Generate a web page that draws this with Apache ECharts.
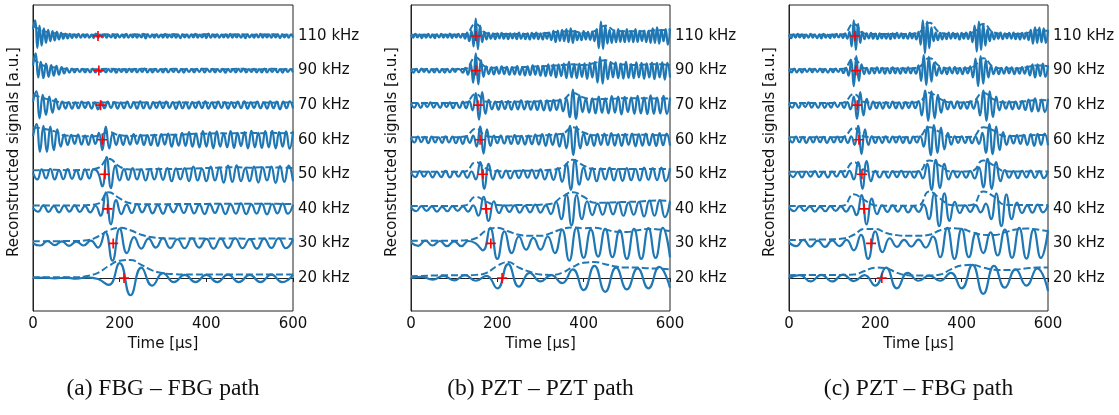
<!DOCTYPE html>
<html><head><meta charset="utf-8">
<script src="https://cdn.jsdelivr.net/npm/echarts@6/dist/echarts.min.js"></script>
<style>html,body{margin:0;padding:0;background:#fff}#c{width:1119px;height:415px}</style>
</head><body><div id="c"></div>
<script>
// ---- labels / ticks ----
const freqLabels = ['110 kHz','90 kHz','70 kHz','60 kHz','50 kHz','40 kHz','30 kHz','20 kHz'];
const traceOffsets = [7,6,5,4,3,2,1,0];
const sampleStep = [5, 6, 7.5, 8, 10, 12, 50/3, 25]; // µs between stored samples, 110 -> 20 kHz
const envStep = 25;
const timeTicks = [0, 200, 400, 600];
const captions = ['(a) FBG \u2013 FBG path', '(b) PZT \u2013 PZT path', '(c) PZT \u2013 FBG path'];
// values in 1/100 a.u. (trace spacing = 1 a.u.)

// ---- (a) FBG-FBG ----
const fbg110 = [20,45,-35,30,-28,22,-20,18,-15,14,-13,12,-10,9,-8,7,-7,6,-6,5,-5,6,-5,5,-4,5,-5,4,-6,7,-5,4,-4,5,-5,4,-4,5,-6,5,-4,4,-5,6,-5,4,-4,5,-5,4,-4,6,-7,5,-4,4,-5,5,-4,4,-5,6,-5,4,-4,5,-5,4,-6,5,-4,4,-5,5,-4,6,-5,4,-4,5,-6,7,-5,4,-4,5,-5,4,-4,5,-5,6,-5,4,-4,5,-5,4,-6,5,-4,4,-5,5,-4,6,-5,4,-4,5,-5,4,-4,5,-6,5,-4,4,-5,5,-4];
const fbg90 = [15,50,-20,25,-22,20,-18,16,-15,14,-12,10,-8,7,-6,6,-5,5,-4,5,-5,4,-5,6,-5,4,-4,5,-5,4,-4,5,-6,5,-4,4,-5,5,-4,5,-5,4,-4,6,-5,4,-5,5,-4,4,-5,6,-5,4,-4,5,-5,4,-6,5,-4,4,-5,5,-4,6,-5,4,-4,5,-5,4,-4,5,-6,5,-4,4,-5,5,-4,6,-5,4,-4,5,-5,4,-5,6,-5,4,-4,5,-5,4,-6,5,-4,4,-5];
const fbg70 = [10,40,-38,30,-28,25,-22,18,-12,10,-10,9,-10,8,-9,10,-8,9,-10,8,-12,10,-9,10,-8,9,-10,8,-9,10,-8,9,-10,11,-9,8,-10,9,-8,10,-9,10,-8,9,-11,10,-9,8,-10,9,-8,10,-9,11,-10,8,-9,10,-8,9,-10,9,-8,10,-9,11,-10,9,-8,10,-9,8,-10,11,-9,10,-12,10,-9,11,-10];
const fbg60 = [10,45,-35,40,-35,38,-30,30,-20,15,-15,14,-12,15,-14,12,-15,14,-12,20,-30,38,-25,18,-15,14,-15,12,-14,16,-12,14,-15,13,-16,15,-18,16,-14,18,-20,15,-17,20,-18,22,-20,18,-22,25,-20,22,-25,24,-20,18,-22,25,-24,20,-18,22,-25,26,-22,20,-24,25,-22,26,-25,22,-20,24,-26,25];
const fbg50 = [5,-15,14,-12,16,-15,12,-14,15,-13,12,-15,14,-12,15,5,-35,50,-40,25,-18,15,-16,18,-15,14,-18,16,-15,17,-16,18,-20,17,-15,18,-20,22,-18,16,-20,22,-18,20,-24,25,-22,26,-20,18,-20,22,-24,20,-18,22,-25,24,-22,25,-20];
const fbg40 = [3,-8,10,-9,8,-10,9,-8,10,-9,8,-10,9,-20,48,-45,25,-15,12,-12,14,-10,12,-13,11,-14,12,-10,13,-12,14,-13,12,-15,13,-12,14,-15,13,-14,16,-15,13,-14,15,-16,14,-13,15,-14,12];
const fbg30 = [0,-6,7,-5,6,-7,5,-6,8,-12,33,-50,43,-28,18,-15,14,-12,15,-13,12,-14,15,-12,13,-15,14,-13,15,-14,12,-15,14,-13,15,-14,12];
const fbg20 = [0,1,-1,1,-2,2,-3,-20,43,-50,30,-22,14,-12,9,-12,9,-12,10,-12,9,-12,10,-12,9];
const envFbg110 = [30,14,8,5,4,4,4,5,4,4,5,4,4,5,4,4,5,4,4,5,4,4,5,4,4];
const envFbg90 = [35,14,9,5,4,4,4,5,4,4,5,4,4,5,4,4,5,4,4,5,4,4,5,4,4];
const envFbg70 = [30,20,12,7,7,7,7,8,7,7,8,7,7,7,8,7,7,8,7,7,7,8,7,8,7];
const envFbg60 = [35,32,24,12,11,10,11,22,13,11,12,13,14,14,15,17,17,19,18,19,20,19,20,19,20];
const envFbg50 = [12,12,13,12,12,13,18,45,22,14,14,15,15,15,16,17,18,19,20,20,19,20,20,19,18];
const envFbg40 = [10,10,10,10,10,11,15,48,30,16,13,13,13,14,14,14,14,15,15,15,15,15,15,14,14];
const envFbg30 = [6,6,6,7,7,9,20,38,45,38,25,18,15,14,14,14,14,14,14,14,13,14,14,14,13];
const envFbg20 = [2,2,2,2,2,6,15,35,50,52,38,22,14,11,10,10,10,10,10,10,10,10,10,10,10];
const arrivalFbg = [150,152,156,160,166,172,185,210];

// ---- (b) PZT-PZT ----
const pzt110 = [3,-5,6,-4,5,-6,4,-5,6,-5,4,-6,5,-4,6,-5,4,-5,7,-6,5,-4,6,-5,6,-8,10,-15,15,-30,50,-38,30,-18,12,-10,9,-8,7,-9,8,-7,9,-8,7,-9,8,-7,8,-9,10,-8,7,-9,8,-10,9,-8,10,-9,8,-10,9,-8,10,-12,15,-18,16,-14,18,-15,20,-18,22,-20,15,-12,10,-12,14,-10,12,-11,13,-15,20,-35,42,-38,30,-22,18,-20,16,-18,20,-17,15,-18,20,-16,14,-18,20,-17,15,-14,16,-18,15,-20,22,-20,25,-22,18,-15,20,-25,22];
const pzt90 = [4,-6,5,-5,6,-4,5,-6,4,-5,6,-5,4,-6,5,-5,6,-4,5,3,-6,8,-12,20,-35,50,-40,30,-18,12,-10,9,-11,10,-9,12,-10,11,-12,10,-11,13,-12,10,-14,12,-13,15,-12,14,-15,14,-16,18,-15,17,-20,18,-16,20,-22,25,-20,18,-22,20,-18,21,-24,22,-20,25,-35,40,-38,30,-25,22,-20,24,-22,20,-23,25,-21,19,-22,24,-20,22,-24,21,-20,23,-25,22,-20,24,-26,22,-20];
const pzt70 = [5,-7,6,-8,7,-6,8,-7,6,-8,7,-6,8,-9,7,-8,10,-9,12,-15,35,-42,38,-25,15,-12,10,-13,12,-11,12,-13,11,-12,14,-12,11,-13,12,-14,13,-15,14,-16,15,-14,17,-18,20,-35,45,-40,28,-20,18,-22,20,-24,25,-22,20,-24,26,-22,25,-27,24,-20,22,-25,27,-24,22,-26,28,-25,22,-24,27,-25,22];
const pzt60 = [6,-8,9,-7,8,-10,9,-8,7,-9,10,-8,9,-10,8,-12,10,-9,12,-20,38,-40,30,-18,12,-10,12,-11,10,-12,13,-12,11,-14,12,-13,15,-14,16,-18,17,-15,18,-20,18,-25,40,-45,38,-25,18,-16,15,-18,17,-15,18,-16,19,-17,16,-18,17,-15,18,-19,16,-17,18,-16,17,-18,19,-16,18,-17];
const pzt50 = [5,-8,9,-7,8,-9,7,-8,10,-9,8,-7,9,-10,8,-15,35,-42,30,-15,12,-10,11,-12,10,-11,12,-10,13,-12,14,-15,13,-16,18,-22,30,-45,42,-30,20,-16,18,-20,17,-15,19,-18,16,-19,18,-17,16,-18,19,-16,18,-17,19,-20,18];
const pzt40 = [4,-7,8,-6,7,-8,6,-7,8,-6,7,-8,10,-20,35,-35,22,-12,10,-9,10,-11,9,-10,12,-11,10,-15,20,-30,42,-48,40,-30,22,-18,15,-17,18,-16,19,-20,18,-17,20,-22,24,-20,25,-24,22];
const pzt30 = [2,-7,8,-6,7,-8,6,-8,7,0,-20,45,-45,35,-28,20,-18,16,-18,20,-28,40,-50,45,-42,40,-38,42,-40,38,-45,42,-45,44,-42,45,-40];
const pzt20 = [0,3,-5,6,-7,8,-8,6,-30,40,-25,15,-10,8,-15,25,-35,35,-40,30,-33,28,-30,32,-28];
const envPzt110 = [4,4,4,4,4,5,35,8,6,6,6,6,7,10,13,14,8,14,30,15,14,14,15,17,18];
const envPzt90 = [4,4,4,4,4,5,38,10,8,8,9,11,12,14,16,18,16,22,30,18,17,16,18,18,16];
const envPzt70 = [6,6,6,6,6,7,32,10,9,9,10,10,11,12,15,35,22,17,18,19,20,20,20,19,19];
const envPzt60 = [7,7,7,7,7,9,32,11,8,9,10,10,12,14,17,36,21,13,13,13,14,14,14,13,13];
const envPzt50 = [7,7,7,7,7,8,35,16,9,9,10,10,11,13,20,42,25,15,15,15,15,15,15,15,15];
const envPzt40 = [8,8,8,8,8,10,35,20,11,10,11,11,12,15,35,48,35,18,18,19,20,21,23,24,23];
const envPzt30 = [8,8,8,8,8,9,15,38,45,35,25,22,22,30,42,46,44,45,40,34,33,38,42,40,36];
const envPzt20 = [5,6,7,8,8,8,9,15,35,46,30,18,10,9,15,32,44,46,40,33,30,30,28,27,25];
const arrivalPzt = [150,150,155,160,167,174,185,211];

// ---- (c) PZT-FBG ----
const mix110 = [4,-6,5,-5,6,-4,5,-6,4,-5,6,-5,4,-6,5,-7,6,-5,4,-6,5,-5,6,-4,5,-6,7,-8,12,-30,45,-40,35,-20,12,-9,8,-7,9,-8,7,-9,8,-7,6,-8,7,-9,8,-7,9,-6,8,-7,6,-8,9,-7,8,-10,12,-25,45,-50,42,-35,25,-15,10,-12,9,-10,8,-9,10,-8,9,-7,8,-10,9,-8,10,-9,12,-18,30,-45,42,-40,35,-28,20,-15,12,-10,9,-8,10,-9,8,-7,9,-8,10,-9,8,-10,9,-8,10,-12,18,-22,25,-20,24,-18,22,-20,18];
const mix90 = [4,-5,6,-5,4,-6,5,-4,6,-5,5,-4,6,-5,4,-6,5,-5,6,-4,5,-7,8,-15,30,-45,42,-30,18,-10,8,-9,7,-8,9,-7,8,-9,7,-8,9,-8,7,-9,8,-7,9,-8,7,-9,15,-30,45,-42,40,-32,22,-15,10,-9,8,-10,9,-8,10,-9,8,-10,9,-8,12,-20,35,-45,42,-38,30,-20,14,-10,9,-10,8,-9,10,-8,9,-10,8,-9,10,-9,12,-14,18,-20,18,-16,20,-18,15];
const mix70 = [5,-7,6,-8,7,-6,8,-7,6,-8,7,-8,6,-7,8,-6,7,-8,9,-12,25,-40,38,-30,18,-12,10,-9,8,-10,9,-8,10,-9,8,-10,9,-8,10,-9,12,-30,42,-45,40,-38,30,-22,15,-12,10,-9,11,-10,9,-10,11,-10,15,-30,42,-45,40,-35,25,-15,12,-10,11,-12,10,-11,12,-14,16,-18,20,-18,16,-20,18];
const mix60 = [6,-8,9,-7,8,-9,7,-8,9,-7,8,-9,7,-8,9,-7,8,-9,10,-15,40,-42,30,-15,10,-9,8,-9,10,-8,9,-8,10,-9,8,-10,9,-8,10,-20,38,-45,42,-38,35,-28,20,-14,10,-9,10,-9,8,-10,9,-12,20,-38,45,-42,38,-30,22,-15,12,-11,13,-12,14,-15,16,-18,17,-15,18,-16];
const mix50 = [5,-8,7,-9,8,-7,9,-8,7,-9,8,-7,9,-8,10,-15,35,-42,38,-20,10,-9,8,-10,9,-8,10,-9,8,-10,9,-12,30,-45,42,-40,30,-15,10,-9,8,-10,9,-12,20,-38,45,-42,35,-20,12,-10,9,-11,10,-9,11,-10,9,-11,10];
const mix40 = [4,-7,8,-6,7,-8,6,-7,8,-6,7,-8,9,-18,40,-45,30,-15,10,-9,10,-8,9,-10,8,-9,12,-30,45,-50,45,-35,20,-12,10,-9,11,-10,15,-30,45,-50,42,-30,18,-12,10,-11,12,-10,11];
const mix30 = [3,-8,10,-9,8,-10,9,-8,10,-20,25,-45,35,-25,15,-10,10,-9,11,-12,20,-40,45,-45,42,-40,30,-28,32,-35,40,-42,45,-44,40,-42,38];
const mix20 = [0,8,-10,9,-10,10,-9,8,-22,30,-30,15,-8,7,-8,15,-30,38,-46,35,-28,25,-22,28,-38];
const envMix110 = [4,4,4,4,4,5,35,7,6,6,6,6,10,38,10,6,6,10,35,10,6,6,8,17,15];
const envMix90 = [4,4,4,4,4,5,35,7,6,6,6,6,10,36,12,6,6,10,36,10,6,6,10,15,13];
const envMix70 = [6,6,6,6,6,7,32,9,7,7,7,7,9,36,18,8,8,11,36,16,8,9,11,15,14];
const envMix60 = [7,7,7,7,7,8,34,9,7,7,7,7,9,36,22,8,8,9,36,26,10,11,12,14,13];
const envMix50 = [7,7,7,7,7,8,35,12,7,7,7,7,8,40,25,8,8,10,40,25,9,8,8,8,8];
const envMix40 = [8,8,8,8,8,9,42,25,10,9,9,9,10,50,30,11,10,12,50,35,12,11,11,11,11];
const envMix30 = [10,10,11,11,12,14,25,42,42,30,24,22,22,25,38,44,42,32,25,24,32,40,43,40,36];
const envMix20 = [8,9,9,9,9,9,10,20,30,28,15,8,7,7,10,25,36,38,30,24,23,24,28,30,30];
const arrivalMix = [153,155,158,162,169,174,190,215];

const panels = [
  {sig:[fbg110,fbg90,fbg70,fbg60,fbg50,fbg40,fbg30,fbg20], env:[envFbg110,envFbg90,envFbg70,envFbg60,envFbg50,envFbg40,envFbg30,envFbg20], arr:arrivalFbg},
  {sig:[pzt110,pzt90,pzt70,pzt60,pzt50,pzt40,pzt30,pzt20], env:[envPzt110,envPzt90,envPzt70,envPzt60,envPzt50,envPzt40,envPzt30,envPzt20], arr:arrivalPzt},
  {sig:[mix110,mix90,mix70,mix60,mix50,mix40,mix30,mix20], env:[envMix110,envMix90,envMix70,envMix60,envMix50,envMix40,envMix30,envMix20], arr:arrivalMix}
];

const BLUE = '#1f77b4';
const TXT = '#111111';
const gridLefts = [33, 411, 789];
const gridWidths = [260, 259, 259];
const FONT = 'DejaVu Sans';
const FS = 15;

const grids = [], xAxes = [], yAxes = [], series = [], graphics = [];
panels.forEach((p, g) => {
  grids.push({left: gridLefts[g], top: 5, width: gridWidths[g], height: 306, show: true, borderColor: '#222', borderWidth: 1, backgroundColor: 'transparent'});
  xAxes.push({gridIndex: g, type: 'value', min: timeTicks[0], max: timeTicks[timeTicks.length-1], interval: 200,
    axisLine: {show: true, lineStyle: {color: '#222', width: 1}},
    axisTick: {show: true, length: 4, lineStyle: {color: '#222'}},
    axisLabel: {fontFamily: FONT, fontSize: FS, color: TXT, margin: 6},
    splitLine: {show: false},
    name: 'Time [\u03bcs]', nameLocation: 'middle', nameGap: 25,
    nameTextStyle: {fontFamily: FONT, fontSize: FS, color: TXT}});
  yAxes.push({gridIndex: g, type: 'value', min: -0.955, max: 7.897,
    axisLine: {show: true, lineStyle: {color: '#222'}}, axisTick: {show: false},
    axisLabel: {show: false}, splitLine: {show: false}});
  p.sig.forEach((vals, k) => {
    const off = traceOffsets[k];
    series.push({type: 'line', xAxisIndex: g, yAxisIndex: g, symbol: 'none', smooth: 0.5,
      lineStyle: {color: BLUE, width: 2.2}, z: 3,
      data: vals.map((v, i) => [i * sampleStep[k], off + v / 100])});
    series.push({type: 'line', xAxisIndex: g, yAxisIndex: g, symbol: 'none', smooth: 0.5,
      lineStyle: {color: BLUE, width: 2, type: [7, 3]}, z: 2,
      data: p.env[k].map((v, i) => [i * envStep, off + v / 100])});
  });
  series.push({type: 'scatter', xAxisIndex: g, yAxisIndex: g, z: 5,
    symbol: 'path://M-1.6,-10H1.6V10H-1.6Z M-10,-1.6H10V1.6H-10Z', symbolSize: 10,
    itemStyle: {color: '#ff0000', opacity: 1},
    data: p.arr.map((t, k) => [t, traceOffsets[k]])});
  series.push({type: 'scatter', xAxisIndex: g, yAxisIndex: g, symbolSize: 0, z: 5,
    itemStyle: {opacity: 1},
    label: {show: true, position: 'right', distance: 5, fontFamily: FONT, fontSize: FS, color: TXT, opacity: 1,
      formatter: (prm) => freqLabels[prm.dataIndex]},
    data: traceOffsets.map(o => [600, o])});
  graphics.push({type: 'text', x: gridLefts[g] - 19, y: 152, rotation: Math.PI / 2,
    style: {text: 'Reconstructed signals [a.u.]', fontFamily: FONT, fontSize: FS, fill: TXT, textAlign: 'center', textVerticalAlign: 'middle'}});
  graphics.push({type: 'text', x: gridLefts[g] + gridWidths[g] / 2, y: 389,
    style: {text: captions[g], fontFamily: 'Liberation Serif', fontSize: 23.5, fill: '#111', textAlign: 'center', textVerticalAlign: 'middle'}});
});

const chart = echarts.init(document.getElementById('c'), null, {renderer: 'canvas'});
chart.setOption({animation: false, backgroundColor: '#fff', grid: grids, xAxis: xAxes, yAxis: yAxes, series: series, graphic: graphics});
</script></body></html>
